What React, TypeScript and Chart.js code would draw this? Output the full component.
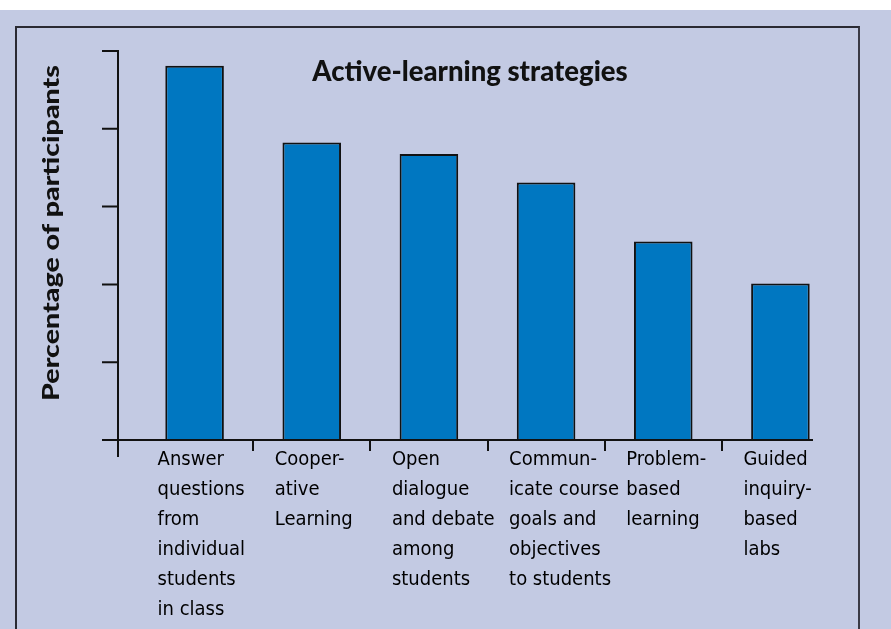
import React, { useEffect, useRef } from 'react';
import { Chart, registerables } from 'chart.js';

Chart.register(...registerables);

// ---- data ----
const categories: string[][] = [
  ['Answer', 'questions', 'from', 'individual', 'students', 'in class'],
  ['Cooper-', 'ative', 'Learning'],
  ['Open', 'dialogue', 'and debate', 'among', 'students'],
  ['Commun-', 'icate course', 'goals and', 'objectives', 'to students'],
  ['Problem-', 'based', 'learning'],
  ['Guided', 'inquiry-', 'based', 'labs'],
];
const percentages: number[] = [96.2, 76.5, 73.5, 66.2, 51, 40.2];
const yTickValues: number[] = [0, 20, 40, 60, 80, 100];
const chartTitle = 'Active-learning strategies';
const yAxisTitle = 'Percentage of participants';

// ---- styles ----
const BG = '#c3cae3';
const BAR = '#0077c1';
const INK = '#111111';
const NARROW = "'DejaVu Sans Condensed', 'Liberation Sans Narrow', 'DejaVu Sans', sans-serif";
const BOLD = "Lato, 'Open Sans', sans-serif";

const decorPlugin = {
  id: 'decor',
  afterDatasetsDraw(chart: any) {
    const { ctx, chartArea, scales } = chart;
    const y = scales.y;
    const axisX = chartArea.left - 18;
    const y0 = y.getPixelForValue(0);
    const yTop = y.getPixelForValue(yTickValues[yTickValues.length - 1]);
    ctx.save();
    ctx.strokeStyle = INK;
    ctx.lineWidth = 2;
    ctx.lineCap = 'butt';
    ctx.beginPath();
    ctx.moveTo(axisX, yTop - 1);
    ctx.lineTo(axisX, y0 + 17);
    ctx.moveTo(axisX - 16, y0);
    ctx.lineTo(chartArea.right - 26, y0);
    yTickValues.forEach((v) => {
      const py = y.getPixelForValue(v);
      ctx.moveTo(axisX - 16, py);
      ctx.lineTo(axisX, py);
    });
    ctx.stroke();

    ctx.fillStyle = INK;
    ctx.textAlign = 'center';
    ctx.textBaseline = 'alphabetic';

    ctx.save();
    ctx.translate(470, 81);
    ctx.scale(1, 1.05);
    ctx.font = `900 27.5px ${BOLD}`;
    ctx.fillText(chartTitle, 0, 0);
    ctx.restore();

    ctx.save();
    ctx.translate(59, 233);
    ctx.scale(1, 1.3);
    ctx.rotate(-Math.PI / 2);
    ctx.font = `900 22px ${BOLD}`;
    ctx.fillText(yAxisTitle, 0, 0);
    ctx.restore();

    ctx.restore();
  },
};

export default function App() {
  const canvasRef = useRef<HTMLCanvasElement | null>(null);

  useEffect(() => {
    const canvas = canvasRef.current;
    if (!canvas) return;
    const chart = new Chart(canvas, {
      type: 'bar',
      data: {
        labels: categories,
        datasets: [
          {
            data: percentages,
            backgroundColor: BAR,
            borderColor: INK,
            borderWidth: 2,
            borderSkipped: 'start',
            barPercentage: 0.5,
            categoryPercentage: 1,
          },
        ],
      },
      options: {
        animation: false,
        responsive: false,
        devicePixelRatio: 1,
        layout: { padding: { left: 136, right: 52, top: 51, bottom: 0 } },
        plugins: {
          legend: { display: false },
          tooltip: { enabled: false },
          title: { display: false },
        },
        scales: {
          x: {
            type: 'category',
            offset: true,
            afterFit: (scale: any) => {
              scale.height = 189;
            },
            border: { display: false },
            grid: {
              offset: true,
              drawOnChartArea: false,
              drawTicks: true,
              tickLength: 11,
              lineWidth: 2,
              color: (c: any) => (c.type === 'tick' && c.index > 0 ? INK : 'rgba(0,0,0,0)'),
            },
            ticks: {
              autoSkip: false,
              maxRotation: 0,
              minRotation: 0,
              align: 'start',
              labelOffset: -37,
              padding: -6,
              color: '#000000',
              font: { family: NARROW, size: 20, lineHeight: 1.5 },
            },
          },
          y: {
            display: false,
            min: 0,
            max: 100,
            ticks: { stepSize: 20 },
          },
        },
      },
      plugins: [decorPlugin],
    });
    return () => chart.destroy();
  }, []);

  return (
    <div style={{ position: 'fixed', left: 0, top: 0, width: 891, height: 629, background: '#ffffff', overflow: 'hidden' }}>
      <div style={{ position: 'absolute', left: 0, top: 10, width: 891, height: 619, background: BG }} />
      <div
        style={{
          position: 'absolute',
          left: 15,
          top: 26,
          width: 841,
          height: 700,
          borderTop: '2px solid #2a2a33',
          borderLeft: '2px solid #2a2a33',
          borderRight: '2px solid #3a3a45',
        }}
      />
      <canvas ref={canvasRef} width={891} height={629} style={{ position: 'absolute', left: 0, top: 0, width: 891, height: 629 }} />
    </div>
  );
}
